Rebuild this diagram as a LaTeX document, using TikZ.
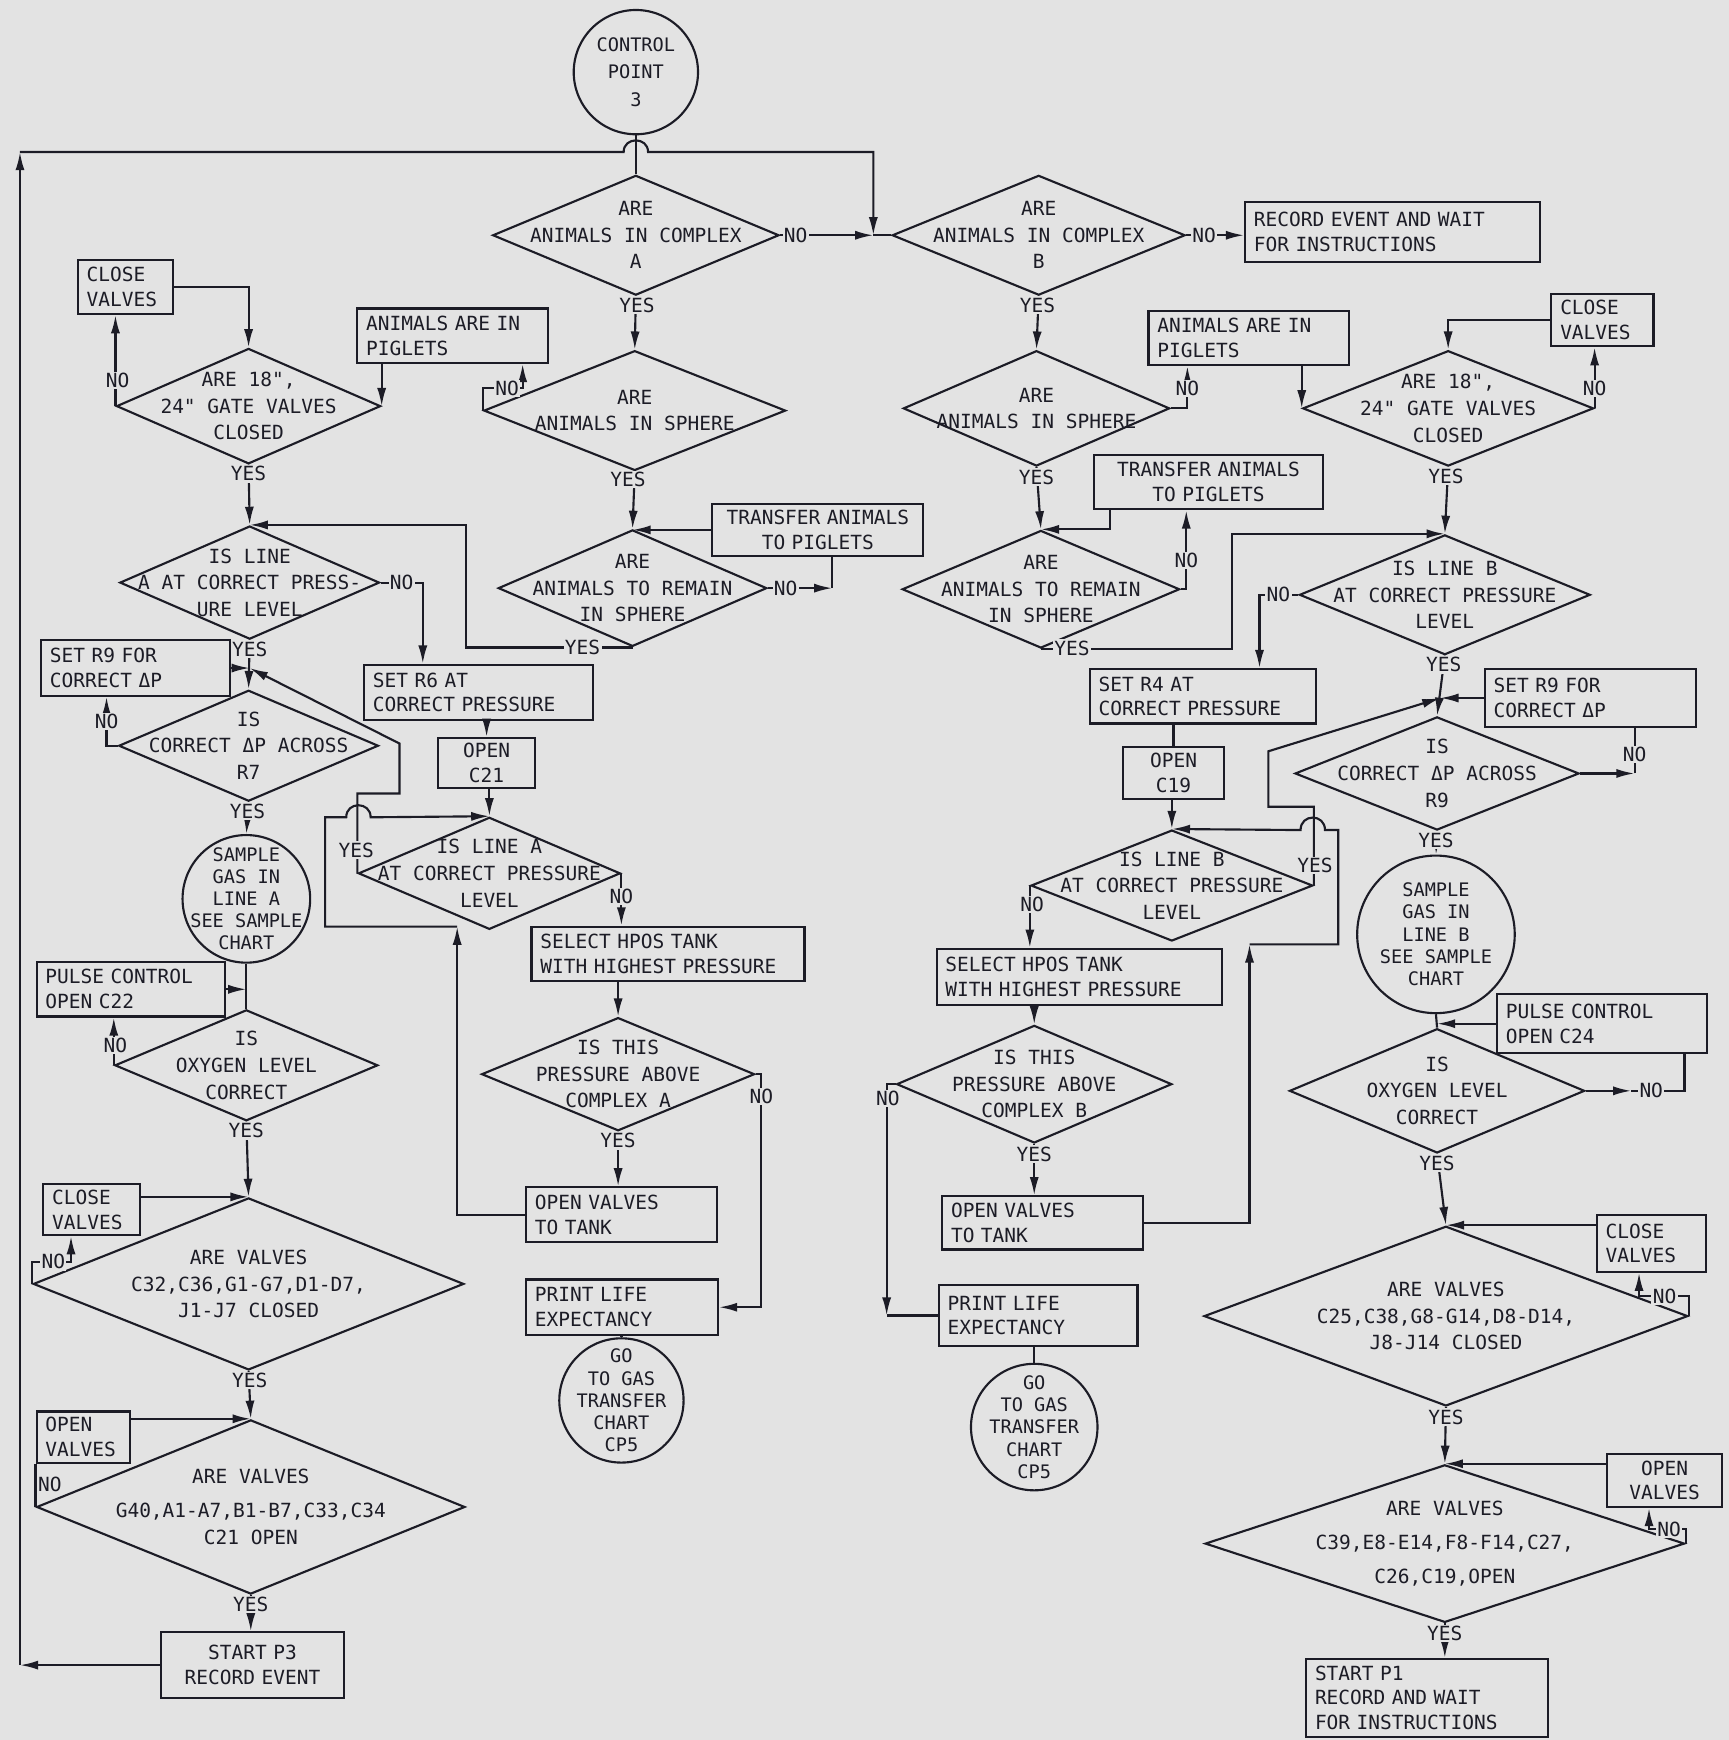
\documentclass[tikz,border=0pt]{standalone}
\usepackage{fontspec}
\usetikzlibrary{shapes.geometric,arrows.meta}
\newfontfamily\lettrage{DejaVu Sans Mono}
\definecolor{papier}{RGB}{227,227,227}
\definecolor{encre}{RGB}{28,28,38}
\newcommand\echelle{0.22mm}

\begin{document}
\begin{tikzpicture}[x=0.22mm, y=-0.22mm, line width=1.2pt, color=encre]
  \tikzstyle{losange}=[diamond, draw, inner sep=0pt]
  \tikzstyle{rond}=[circle, draw, inner sep=0pt]
  \tikzstyle{boite}=[rectangle, draw, inner sep=0pt, font=\lettrage\fontsize{11}{14}\selectfont]
  \tikzstyle{texte}=[align=center, inner sep=0pt, font=\lettrage\fontsize{11}{15}\selectfont]
  \tikzstyle{petit}=[align=center, inner sep=0pt, font=\lettrage\fontsize{10.5}{12.5}\selectfont]
  \tikzstyle{etiq}=[fill=papier, inner sep=0.8pt, font=\lettrage\fontsize{11}{12}\selectfont]
  \tikzstyle{fleche}=[-{Latex[length=3.6mm,width=1.8mm]}]
  \useasboundingbox (0,0) rectangle (1558,1568);
  \fill[papier] (0,0) rectangle (1558,1568);
  \foreach \n/\x/\y/\d/\txt in {
    cp3/573/65/112/{CONTROL\\[3pt]POINT\\[3pt]3},
    echA/222/810/115/{SAMPLE\\GAS IN\\LINE A\\SEE SAMPLE\\CHART},
    echB/1294/842/142/{SAMPLE\\GAS IN\\LINE B\\SEE SAMPLE\\CHART},
    goA/560/1262/112/{GO\\TO GAS\\TRANSFER\\CHART\\CP5},
    goB/932/1286/114/{GO\\TO GAS\\TRANSFER\\CHART\\CP5}} {
    \draw (\x,\y) node[rond, minimum size=\d*\echelle] (\n) {};
    \node[petit] (\n-t) at (\n) {\txt};
  }
  \foreach \n/\x/\y/\w/\h/\txt in {
    dA/573/212/258/108/{ARE\\ANIMALS IN COMPLEX\\A},
    dB/936/212/264/108/{ARE\\ANIMALS IN COMPLEX\\B},
    sphA/572/370/272/108/{ARE\\ANIMALS IN SPHERE},
    sphB/934/368/240/104/{ARE\\ANIMALS IN SPHERE},
    vanA/224/366/238/104/{ARE 18",\\24" GATE VALVES\\CLOSED},
    vanB/1305/368/262/104/{ARE 18",\\24" GATE VALVES\\CLOSED},
    remA/570/530/242/105/{ARE\\ANIMALS TO REMAIN\\IN SPHERE},
    remB/938/531/250/106/{ARE\\ANIMALS TO REMAIN\\IN SPHERE},
    ligA1/225/525/234/102/{IS LINE\\A AT CORRECT PRESS-\\URE LEVEL},
    ligB1/1302/536/262/108/{IS LINE B\\AT CORRECT PRESSURE\\LEVEL},
    dpA/224/672/234/100/{IS\\CORRECT ΔP ACROSS\\R7},
    dpB/1295/697/256/102/{IS\\CORRECT ΔP ACROSS\\R9},
    ligA2/441/787/236/101/{IS LINE A\\AT CORRECT PRESSURE\\LEVEL},
    ligB2/1056/798/254/100/{IS LINE B\\AT CORRECT PRESSURE\\LEVEL},
    oxA/222/960/237/100/{IS\\OXYGEN LEVEL\\CORRECT},
    oxB/1295/983/266/112/{IS\\OXYGEN LEVEL\\CORRECT},
    prA/557/968/246/102/{IS THIS\\PRESSURE ABOVE\\COMPLEX A},
    prB/932/977/248/106/{IS THIS\\PRESSURE ABOVE\\COMPLEX B},
    vfA/224/1157/388/155/{ARE VALVES\\C32,C36,G1-G7,D1-D7,\\J1-J7 CLOSED},
    voA/226/1358/386/157/{ARE VALVES\\[4pt]G40,A1-A7,B1-B7,C33,C34\\C21 OPEN},
    vfB/1303/1186/436/162/{ARE VALVES\\C25,C38,G8-G14,D8-D14,\\J8-J14 CLOSED},
    voB/1302/1391/432/142/{ARE VALVES\\[4pt]C39,E8-E14,F8-F14,C27,\\[4pt]C26,C19,OPEN}} {
    \draw (\x,\y) node[losange, minimum width=\w*\echelle, minimum height=\h*\echelle] (\n) {};
    \node[texte] (\n-t) at (\n) {\txt};
  }
  \foreach \n/\xa/\ya/\xb/\yb/\al/\txt in {
    att/1122/182/1388/236/left/{RECORD EVENT AND WAIT\\FOR INSTRUCTIONS},
    fermA1/70/234/156/283/left/{CLOSE\\VALVES},
    porcA/322/278/494/327/left/{ANIMALS ARE IN\\PIGLETS},
    porcB/1035/280/1216/329/left/{ANIMALS ARE IN\\PIGLETS},
    fermB1/1398/265/1490/312/left/{CLOSE\\VALVES},
    transA/642/454/832/501/center/{TRANSFER ANIMALS\\TO PIGLETS},
    transB/986/410/1192/459/center/{TRANSFER ANIMALS\\TO PIGLETS},
    r9A/37/577/207/627/left/{SET R9 FOR\\CORRECT ΔP},
    r6/328/599/534/649/left/{SET R6 AT\\CORRECT PRESSURE},
    c21/395/665/482/710/center/{OPEN\\C21},
    r4/982/603/1186/652/left/{SET R4 AT\\CORRECT PRESSURE},
    c19/1012/673/1103/720/center/{OPEN\\C19},
    r9B/1338/603/1528/655/left/{SET R9 FOR\\CORRECT ΔP},
    pulsA/33/867/203/916/left/{PULSE CONTROL\\OPEN C22},
    pulsB/1349/896/1538/949/left/{PULSE CONTROL\\OPEN C24},
    selA/479/835/725/884/left/{SELECT HPOS TANK\\WITH HIGHEST PRESSURE},
    selB/844/855/1101/906/left/{SELECT HPOS TANK\\WITH HIGHEST PRESSURE},
    resA/474/1070/646/1119/left/{OPEN VALVES\\TO TANK},
    resB/849/1078/1030/1126/left/{OPEN VALVES\\TO TANK},
    vieA/474/1153/647/1203/left/{PRINT LIFE\\EXPECTANCY},
    vieB/846/1158/1025/1213/left/{PRINT LIFE\\EXPECTANCY},
    fermA2/39/1067/126/1113/left/{CLOSE\\VALVES},
    ouvA/33/1272/117/1318/left/{OPEN\\VALVES},
    fermB2/1439/1095/1537/1146/left/{CLOSE\\VALVES},
    ouvB/1448/1310/1552/1358/center/{OPEN\\VALVES},
    p3/145/1471/310/1530/center/{START P3\\RECORD EVENT},
    p1/1177/1495/1395/1565/left/{START P1\\RECORD AND WAIT\\FOR INSTRUCTIONS}} {
    \pgfmathsetmacro\larg{(\xb-\xa)*0.22}
    \pgfmathsetmacro\haut{(\yb-\ya)*0.22}
    \pgfmathsetmacro\ltxt{(\xb-\xa-16)*0.22}
    \draw ({(\xa+\xb)/2},{(\ya+\yb)/2}) node[boite, align=\al, minimum width=\larg mm,
      minimum height=\haut mm, text width=\ltxt mm] (\n) {\txt};
  }
  \foreach \n/\x/\y in {cHG/18/137, cHD/787/137, jAB/787/212, sG/562/137, sD/584/137,
    nA/471/350, xA/750/0, yA/420/0, xR6/381/0, xN/96/0, jA/225/602, bA/360/715, cA/360/670,
    rA1/412/835, rA2/293/835, rA3/293/736.5, sA1/312/736.5, sA2/334/736.5, xP/686/0,
    nB/1070/0, xT/1000/0, xU/1069/0, xV/1110/0, xW/1135/0, jB/1298/629, xX/1473/0,
    bB/1143/727, cB/1143/677, rB1/1126/851, rB2/1206/851, rB3/1206/748, sB1/1194/748,
    sB2/1172/748, xY/799/0, xZ/1518/0, flO/1470/983, xF/64/1137, xG/1477/1168, xH/1486/1378}
    \coordinate (\n) at (\x,\y);
  \foreach \a/\b in {dA/sphA, dB/sphB, sphA/remA, sphB/remB, vanA/ligA1, vanB/ligB1,
    ligA1/dpA, ligB1/dpB, dpA/echA, dpB/echB, oxA/vfA, vfA/voA, oxB/vfB, vfB/voB}
    \draw[fleche] (\a.south) -- (\b.north);
  \foreach \a/\b in {prA/resA, prB/resB, voA/p3, voB/p1}
    \draw[fleche] (\a.south) -- (\a.south |- \b.north);
  \foreach \a/\b in {r6/c21, c21/ligA2, c19/ligB2, selA/prA, selB/prB}
    \draw[fleche] (\b.north |- \a.south) -- (\b.north);
  \foreach \a/\b in {cp3/dA, echA/oxA, echB/oxB}
    \draw (\a.south) -- (\b.north);
  \foreach \a/\b in {r4/c19, vieA/goA, vieB/goB}
    \draw (\b.north |- \a.south) -- (\b.north);
  \draw[fleche] (p3.west) -- (p3.west -| cHG);
  \draw[fleche] (p3.west -| cHG) -- (cHG);
  \draw[fleche] (cHG) -- (sG) .. controls (562,123) and (584,123) .. (sD) -- (cHD) -- (jAB);
  \draw[fleche] (dA.east) -- (jAB);
  \draw (jAB) -- (dB.west);
  \draw[fleche] (dB.east) -- (dB.east -| att.west);
  \draw[fleche] (sphA.west) |- (nA) -- (nA |- porcA.south);
  \draw[fleche] (porcA.south -| vanA.east) -- (vanA.east);
  \draw[fleche] (vanA.west) -- (vanA.west |- fermA1.south);
  \draw[fleche] (fermA1.east) -| (vanA.north);
  \draw[fleche] (sphB.east) -- (sphB.east -| nB) -- (nB |- porcB.south);
  \draw[fleche] (porcB.south -| vanB.west) -- (vanB.west);
  \draw[fleche] (vanB.east) -- (vanB.east |- fermB1.south);
  \draw[fleche] (fermB1.west) -| (vanB.north);
  \draw[fleche] (transA.west) -- (transA.west -| remA.north);
  \draw[fleche] (remA.east) -- (remA.east -| xA);
  \draw (remA.east -| xA) -- (xA |- transA.south);
  \draw[fleche] (remA.south) -| (ligA1.north -| yA) -- (ligA1.north);
  \draw[fleche] (ligA1.east) -| (r6.north -| xR6);
  \draw[fleche] (dpA.west) -- (dpA.west -| xN) -- (xN |- r9A.south);
  \draw[fleche] (r9A.east |- jA) -- (jA);
  \draw[fleche] (ligA2.west) |- (bA) -- (cA) -- (jA);
  \draw[fleche] (resA.west) -| (rA1);
  \draw[fleche] (rA1) -- (rA2) -- (rA3) -- (sA1) .. controls (312,722) and (334,722) .. (sA2) -- (ligA2.north);
  \draw[fleche] (ligA2.east) -- (ligA2.east |- selA.north);
  \draw[fleche] (prA.east) -| (vieA.east -| xP) -- (vieA.east);
  \draw[fleche] (oxA.west) -- (oxA.west |- pulsA.south);
  \draw[fleche] (pulsA.east) -- (pulsA.east -| oxA.north);
  \draw[fleche] (vfA.west) |- (xF) -- (xF |- fermA2.south);
  \draw[fleche] (fermA2.east |- vfA.north) -- (vfA.north);
  \draw (voA.west) -- (voA.west |- ouvA.south);
  \draw[fleche] (ouvA.east |- voA.north) -- (voA.north);
  \draw[fleche] (transB.south -| xT) |- (remB.north);
  \draw[fleche] (remB.east) -| (xU |- transB.south);
  \draw[fleche] (remB.south) -| (ligB1.north -| xV) -- (ligB1.north);
  \draw[fleche] (ligB1.west) -| (r4.north -| xW);
  \draw[fleche] (r9B.west |- jB) -- (jB);
  \draw[fleche] (dpB.east) -- (dpB.east -| xX);
  \draw (dpB.east -| xX) -- (xX |- r9B.south);
  \draw[fleche] (ligB2.east) |- (bB) -- (cB) -- (jB);
  \draw[fleche] (resB.east) -| (rB1);
  \draw[fleche] (rB1) -- (rB2) -- (rB3) -- (sB1) .. controls (1194,733) and (1172,733) .. (sB2) -- (ligB2.north);
  \draw[fleche] (ligB2.west) -- (ligB2.west |- selB.north);
  \draw[fleche] (prB.west) -| (vieB.west -| xY);
  \draw (vieB.west -| xY) -- (vieB.west);
  \draw[fleche] (pulsB.west) -- (pulsB.west -| oxB.north);
  \draw[fleche] (oxB.east) -- (flO);
  \draw (flO) -| (xZ |- pulsB.south);
  \draw[fleche] (vfB.east) |- (xG) -- (xG |- fermB2.south);
  \draw[fleche] (fermB2.west |- vfB.north) -- (vfB.north);
  \draw[fleche] (voB.east) |- (xH) -- (xH |- ouvB.south);
  \draw[fleche] (ouvB.west |- voB.north) -- (voB.north);
  \foreach \n/\x/\y/\txt in {nonDA/717/212/NO, ouiDA/574/275/YES, nonDB/1085/212/NO,
    ouiDB/935/275/YES, nonSA/457/350/NO, ouiSA/566/432/YES, nonVA/106/343/NO,
    ouiVA/224/427/YES, nonSB/1070/350/NO, ouiSB/934/430/YES, nonVB/1437/350/NO,
    ouiVB/1303/429/YES, nonRA/708/530/NO, ouiRA/525/583/YES, nonRB/1069/505/NO,
    ouiRB/966/584/YES, nonLA1/362/525/NO, ouiLA1/225/585/YES, nonLB1/1152/536/NO,
    ouiLB1/1301/599/YES, nonPA/96/650/NO, ouiPA/223/731/YES, nonPB/1473/680/NO,
    ouiPB/1294/757/YES, ouiLA2/321/766/YES, nonLA2/560/808/NO, ouiLB2/1185/780/YES,
    nonLB2/930/815/NO, nonOA/104/942/NO, ouiOA/222/1019/YES, nonOB/1488/983/NO,
    ouiOB/1295/1048/YES, nonHA/686/988/NO, ouiHA/557/1028/YES, nonHB/800/990/NO,
    ouiHB/932/1040/YES, nonFA/48/1137/NO, ouiFA/225/1244/YES, nonOuA/45/1338/NO,
    ouiOuA/226/1446/YES, nonFB/1500/1168/NO, ouiFB/1303/1277/YES, nonOuB/1504/1378/NO,
    ouiOuB/1302/1472/YES}
    \node[etiq] (\n) at (\x,\y) {\txt};
\end{tikzpicture}
\end{document}
